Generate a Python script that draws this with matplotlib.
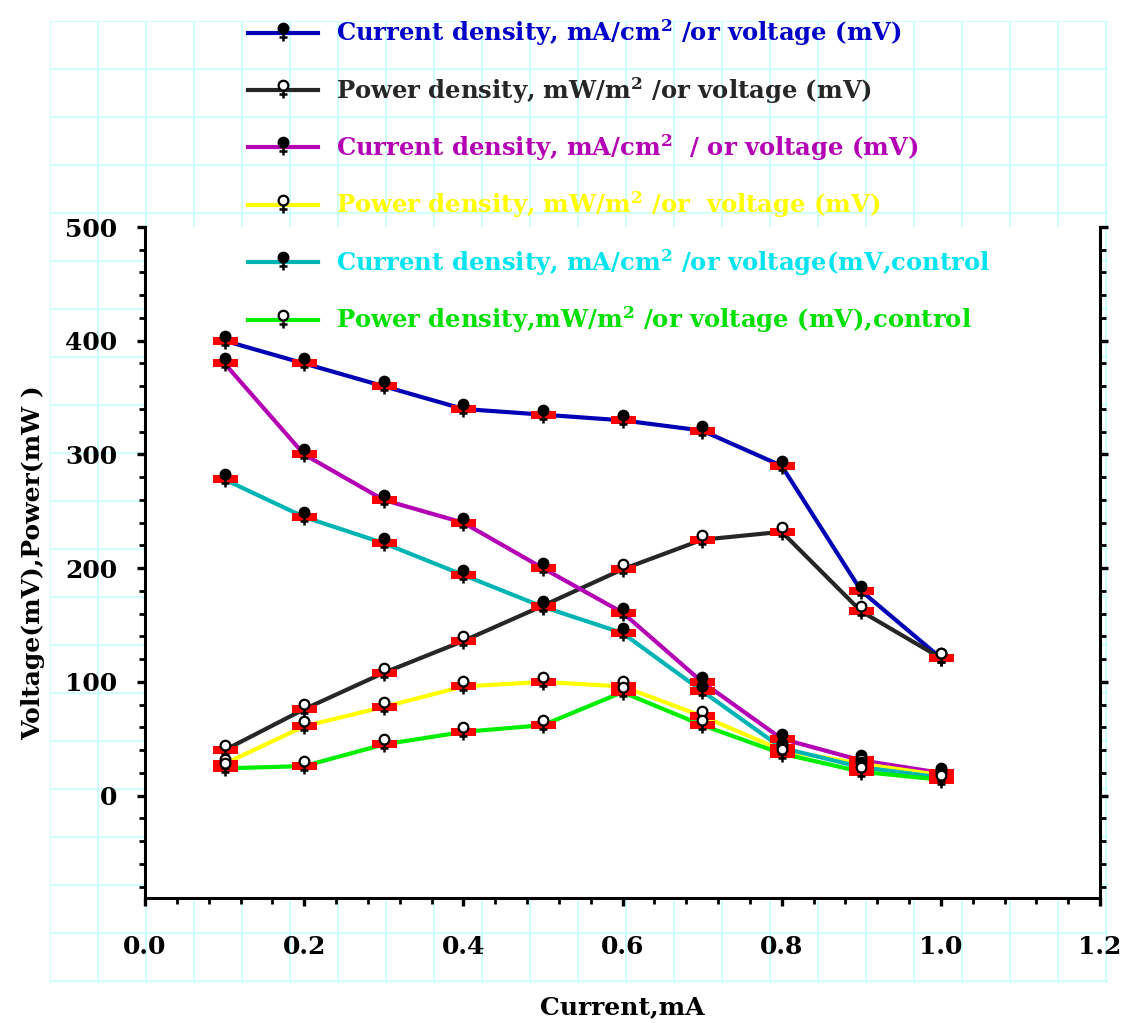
import numpy as np
import matplotlib
matplotlib.use("Agg")
import matplotlib.pyplot as plt
from matplotlib.path import Path
from matplotlib.lines import Line2D
from matplotlib.ticker import MultipleLocator

plt.rcParams['font.family'] = 'DejaVu Serif'
plt.rcParams['font.weight'] = 'bold'
plt.rcParams['mathtext.fontset'] = 'custom'
plt.rcParams['mathtext.rm'] = 'DejaVu Serif:bold'
plt.rcParams['mathtext.it'] = 'DejaVu Serif:bold'
plt.rcParams['mathtext.bf'] = 'DejaVu Serif:bold'

# data
current = [0.1, 0.2, 0.3, 0.4, 0.5, 0.6, 0.7, 0.8, 0.9, 1.0]
cd_1 = [400, 380, 360, 340, 335, 330, 321, 290, 180, 121]
pd_1 = [40, 76, 108, 136, 167, 199, 225, 232, 162, 121]
cd_2 = [380, 300, 260, 240, 200, 161, 100, 50, 31, 20]
pd_2 = [28, 61, 78, 96, 100, 96, 70, 40, 28, 18]
cd_ctrl = [278, 245, 222, 194, 166, 143, 92, 42, 25, 16]
pd_ctrl = [24, 26, 45, 56, 62, 91, 62, 37, 21, 14]

labels = ["Current density, mA/cm$^2$ /or voltage (mV)",
          "Power density, mW/m$^2$ /or voltage (mV)",
          "Current density, mA/cm$^2$  / or voltage (mV)",
          "Power density, mW/m$^2$ /or  voltage (mV)",
          "Current density, mA/cm$^2$ /or voltage(mV,control",
          "Power density,mW/m$^2$ /or voltage (mV),control"]
series = [cd_1, pd_1, cd_2, pd_2, cd_ctrl, pd_ctrl]
line_colors = ['#0000b4', '#262626', '#b400b4', '#ffff00', '#00b4b4', '#00ee00']
text_colors = ['#0000c8', '#262626', '#b400b4', '#ffff00', '#00e4f0', '#00e000']
filled = [True, False, True, False, True, False]

# marker shapes: circle above the point, plus below, red bar on the point
circ = Path.circle(center=(0, 0.5), radius=0.5)
plus = Path([(-0.5, -0.5), (0.5, -0.5), (0, -1.0), (0, 0.0)],
            [Path.MOVETO, Path.LINETO, Path.MOVETO, Path.LINETO])
bar = Path([(-1, -0.34), (1, -0.34), (1, 0.34), (-1, 0.34), (-1, -0.34)],
           [Path.MOVETO, Path.LINETO, Path.LINETO, Path.LINETO, Path.CLOSEPOLY])

fig = plt.figure(figsize=(11.21, 10.23), dpi=100)

# light cyan paper grid behind everything
bg = fig.add_axes([50/1121, 1-983/1023, 1058/1121, 962/1023], zorder=0)
bg.set_xlim(0, 1058)
bg.set_ylim(0, 962)
bg.set_xticks(np.arange(0, 1059, 48.0))
bg.set_yticks(np.arange(2, 963, 48.0))
bg.grid(True, color='#ccffff', lw=1.3)
bg.tick_params(length=0, labelbottom=False, labelleft=False)
for s in bg.spines.values():
    s.set_visible(False)
bg.patch.set_alpha(0)

ax = fig.add_axes([145/1121, 1-898/1023, 955/1121, 671/1023], zorder=1)
ax.set_facecolor('white')

handles = []
for y, lc, f in zip(series, line_colors, filled):
    ax.plot(current, y, color=lc, lw=3, zorder=2)
for y, lc, f in zip(series, line_colors, filled):
    ax.plot(current, y, ls='none', marker=bar, ms=18, mfc='red', mec='red', mew=0, zorder=3)
    ax.plot(current, y, ls='none', marker=circ, ms=14, mfc='black' if f else 'white',
            mec='black', mew=1.6, zorder=4)
    ax.plot(current, y, ls='none', marker=plus, ms=11, mec='black', mew=1.8, zorder=4)
    h1 = Line2D([], [], color=lc, lw=3, marker=circ, ms=14, mfc='black' if f else 'white',
                mec='black', mew=1.6)
    h2 = Line2D([], [], ls='none', marker=plus, ms=11, mec='black', mew=1.8)
    handles.append((h1, h2))

ax.set_xlim(0, 1.2)
ax.set_ylim(-90, 500)
ax.xaxis.set_major_locator(MultipleLocator(0.2))
ax.xaxis.set_minor_locator(MultipleLocator(0.04))
ax.yaxis.set_major_locator(MultipleLocator(100))
ax.yaxis.set_minor_locator(MultipleLocator(20))
ax.xaxis.set_major_formatter(matplotlib.ticker.FormatStrFormatter('%.1f'))
ax.spines['top'].set_visible(False)
for s in ['left', 'right', 'bottom']:
    ax.spines[s].set_linewidth(2.2)
ax.tick_params(which='major', direction='out', length=6, width=2.4, labelsize=18)
ax.tick_params(which='minor', direction='out', length=4, width=2.0)
ax.tick_params(axis='y', which='both', left=True, right=True, pad=14)
ax.tick_params(axis='x', which='both', top=False, pad=21)

ax.set_xlabel("Current,mA", fontsize=18, fontweight='bold')
ax.xaxis.set_label_coords(0.5, -0.145)
ax.xaxis.label.set_va('top')
ax.set_ylabel("Voltage(mV),Power(mW )", fontsize=18, fontweight='bold')
ax.yaxis.set_label_coords(-0.105, 0.5)

leg = fig.legend(handles, labels, loc='upper left', bbox_to_anchor=(248/1121, 0.983),
                 frameon=False, handlelength=2.9, handletextpad=0.72,
                 labelspacing=1.1, borderpad=0, borderaxespad=0,
                 prop={'family': 'DejaVu Serif', 'weight': 'bold', 'size': 17.5})
for t, c in zip(leg.get_texts(), text_colors):
    t.set_color(c)
leg.set_zorder(5)

fig.savefig("out.png", dpi=100)
